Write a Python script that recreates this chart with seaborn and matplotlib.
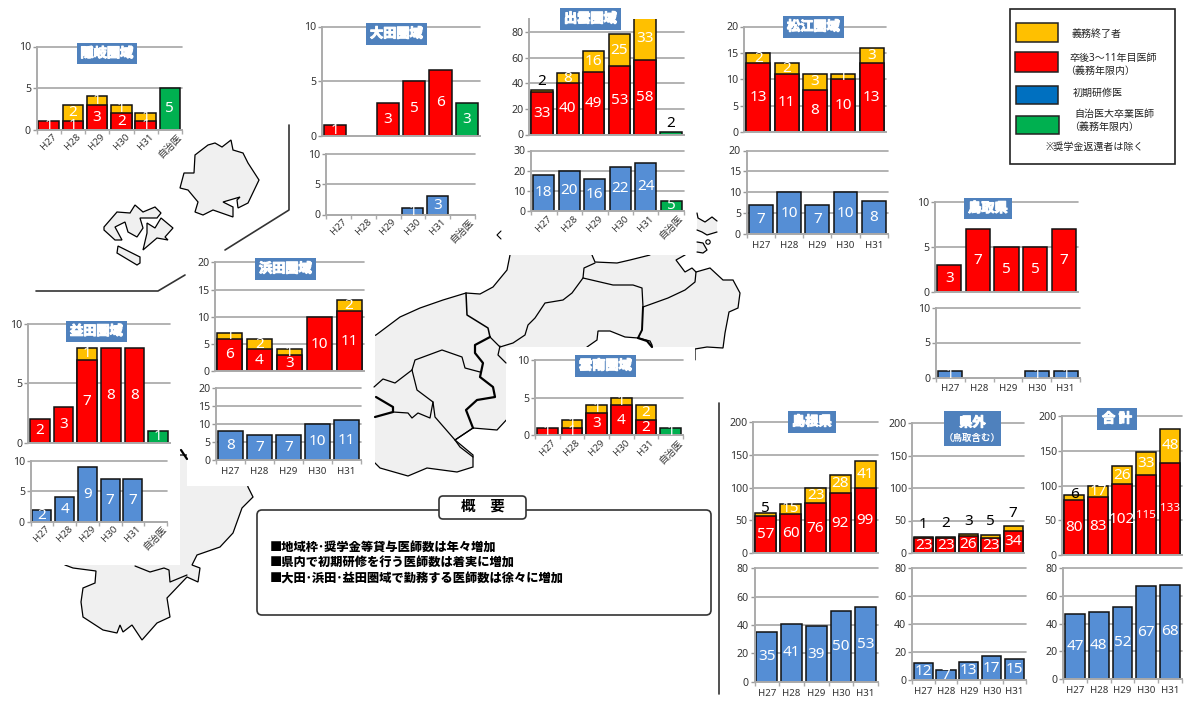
import numpy as np
import matplotlib
matplotlib.use('Agg')
import matplotlib.pyplot as plt
import matplotlib.patheffects as pe
from matplotlib.patches import Polygon, Rectangle, FancyBboxPatch, Circle
import seaborn as sns

sns.set_theme(style='white')
plt.rcParams['font.family'] = ['Noto Sans', 'Noto Sans CJK JP', 'DejaVu Sans']

W, H = 1184, 702
YEL, RED, BLU, GRN = '#FFC000', '#FF0000', '#558ED5', '#00B050'
TITLE_BG = '#4F81BD'

years = ['H27', 'H28', 'H29', 'H30', 'H31']
years_j = years + ['自治医']

# values
oki_red = [1, 1, 3, 2, 1, 0]
oki_yel = [0, 2, 1, 1, 1, 0]
oki_grn = [0, 0, 0, 0, 0, 5]

ohda_red = [1, 0, 3, 5, 6, 0]
ohda_grn = [0, 0, 0, 0, 0, 3]
ohda_blu = [0, 0, 0, 1, 3, 0]

izumo_red = [33, 40, 49, 53, 58, 0]
izumo_yel = [2, 8, 16, 25, 33, 0]
izumo_grn = [0, 0, 0, 0, 0, 2]
izumo_blu = [18, 20, 16, 22, 24, 0]
izumo_grn2 = [0, 0, 0, 0, 0, 5]

matsue_red = [13, 11, 8, 10, 13]
matsue_yel = [2, 2, 3, 1, 3]
matsue_blu = [7, 10, 7, 10, 8]

tottori_red = [3, 7, 5, 5, 7]
tottori_blu = [1, 0, 0, 1, 1]

hamada_red = [6, 4, 3, 10, 11]
hamada_yel = [1, 2, 1, 0, 2]
hamada_blu = [8, 7, 7, 10, 11]

masuda_red = [2, 3, 7, 8, 8, 0]
masuda_yel = [0, 0, 1, 0, 0, 0]
masuda_grn = [0, 0, 0, 0, 0, 1]
masuda_blu = [2, 4, 9, 7, 7, 0]

unnan_red = [1, 1, 3, 4, 2, 0]
unnan_yel = [0, 1, 1, 1, 2, 0]
unnan_grn = [0, 0, 0, 0, 0, 1]

shimane_red = [57, 60, 76, 92, 99]
shimane_yel = [5, 15, 23, 28, 41]
shimane_blu = [35, 41, 39, 50, 53]

kengai_red = [23, 23, 26, 23, 34]
kengai_yel = [1, 2, 3, 5, 7]
kengai_blu = [12, 7, 13, 17, 15]

total_red = [80, 83, 102, 115, 133]
total_yel = [6, 17, 26, 33, 48]
total_blu = [47, 48, 52, 67, 68]

# map outlines (background decoration, in pixels)
dogo = [(195, 155), (208, 145), (215, 143), (222, 147), (231, 140), (233, 150), (243, 153), (248, 163),
        (259, 180), (248, 203), (238, 208), (237, 200), (240, 197), (223, 202), (233, 207), (233, 217),
        (213, 210), (203, 215), (195, 212), (198, 202), (188, 190), (180, 188), (184, 173), (194, 173)]
dozen1 = [(104, 227), (117, 212), (130, 213), (135, 205), (143, 212), (155, 207), (161, 213), (157, 218),
          (140, 218), (143, 228), (137, 237), (128, 232), (125, 222), (115, 227), (122, 240), (115, 240),
          (104, 230)]
dozen2 = [(147, 223), (155, 228), (161, 218), (173, 228), (165, 237), (168, 240), (157, 238), (143, 250),
          (147, 233)]
dozen3 = [(118, 246), (140, 257), (140, 263), (137, 265), (117, 253)]
mainland = [(350, 345), (376, 335), (400, 317), (420, 308), (443, 300), (466, 293), (480, 294), (493, 287),
            (507, 270), (511, 250), (592, 250), (592, 255), (595, 262), (617, 263), (630, 260), (650, 255),
            (650, 250), (685, 250), (685, 255), (676, 260), (685, 272), (692, 268), (696, 272), (710, 268),
            (723, 280), (733, 280), (740, 293), (738, 308), (729, 312), (725, 333), (723, 348), (707, 347),
            (695, 349), (695, 360), (652, 360), (652, 345), (650, 341), (638, 338), (625, 337), (610, 331),
            (598, 331), (597, 340), (587, 347), (587, 360), (510, 360), (510, 416), (497, 430), (473, 428),
            (455, 440), (473, 455), (473, 467), (457, 472), (427, 468), (408, 476), (380, 468), (374, 462),
            (350, 450)]
west = [(60, 455), (65, 565), (73, 568), (96, 571), (95, 583), (83, 588), (81, 602), (83, 617), (103, 630),
        (117, 633), (120, 625), (123, 632), (132, 625), (142, 640), (157, 623), (170, 617), (167, 598),
        (187, 577), (198, 582), (200, 568), (192, 565), (197, 555), (220, 547), (233, 533), (242, 508),
        (253, 497), (248, 487), (240, 455)]
shore_a = [(697, 213), (698, 218), (705, 222), (712, 217), (717, 221), (717, 232), (707, 235), (702, 232), (697, 230)]
shore_b = [(697, 242), (703, 243), (707, 250), (703, 253), (697, 252)]
borders = [
    ([(466, 293), (467, 315), (488, 328), (490, 337)], 1.1),
    ([(583, 278), (572, 293), (563, 300), (545, 303), (535, 318), (528, 325), (525, 335), (513, 343), (500, 347),
      (490, 337)], 0.9),
    ([(595, 263), (584, 268), (583, 278), (613, 285), (633, 285), (642, 288), (643, 307)], 0.9),
    ([(643, 307), (642, 330), (638, 338)], 1.4),
    ([(638, 338), (647, 341), (652, 347)], 1.6),
    ([(643, 307), (668, 298), (685, 290), (695, 282), (696, 272)], 0.9),
    ([(490, 337), (475, 345), (475, 353), (483, 363), (480, 377), (493, 387), (495, 397), (477, 400),
      (466, 410), (473, 428)], 1.6),
    ([(500, 346), (498, 355), (506, 363)], 0.9),
    ([(376, 397), (393, 407), (393, 412), (375, 417)], 1.6),
    ([(412, 370), (415, 360), (442, 350), (462, 357), (465, 368), (480, 372)], 0.9),
    ([(412, 370), (417, 390), (433, 402), (435, 417), (455, 440), (473, 428)], 0.9),
    ([(374, 387), (383, 379), (395, 383), (412, 370)], 0.9),
    ([(393, 412), (408, 413), (412, 418), (418, 413), (430, 418), (433, 402)], 0.9),
    ([(455, 440), (460, 447), (473, 457)], 0.9),
    ([(135, 566), (150, 572), (164, 568), (169, 570), (170, 582), (187, 575)], 0.9),
    ([(181, 450), (187, 459)], 1.6),
]
white_boxes = [(187, 245, 188, 241), (0, 320, 180, 245), (506, 347, 189, 123), (330, 205, 365, 50)]
callouts = [[(289, 125), (289, 210), (225, 250)], [(185, 275), (158, 291), (36, 291)], [(718.5, 403), (718.5, 694)]]

fig = plt.figure(figsize=(W / 100, H / 100), dpi=100, facecolor='white')

bg = fig.add_axes([0, 0, 1, 1], zorder=0)
bg.set_xlim(0, W)
bg.set_ylim(H, 0)
bg.axis('off')
for shape in [dogo, dozen1, dozen2, dozen3, mainland, west]:
    bg.add_patch(Polygon(shape, closed=True, fc='#F0F0F0', ec='black', lw=0.9))
for shape in [shore_a, shore_b]:
    bg.add_patch(Polygon(shape, closed=True, fc='#F0F0F0', ec='none'))
    bg.plot(*zip(*shape[:5]), color='black', lw=0.9)
bg.plot(*zip(*shore_a[5:]), color='black', lw=0.9)
bg.add_patch(Circle((708, 242), 2.2, fc='white', ec='black', lw=0.8))
bg.plot([501, 497, 501], [231, 235, 239], color='black', lw=0.8)
for pts, lw in borders:
    bg.plot(*zip(*pts), color='black', lw=lw, solid_capstyle='round')
for x, y, w, h in white_boxes:
    bg.add_patch(Rectangle((x, y), w, h, fc='white', ec='none'))
for pts in callouts:
    bg.plot(*zip(*pts), color='#333333', lw=1.2)

top = fig.add_axes([0, 0, 1, 1], zorder=5)
top.set_xlim(0, W)
top.set_ylim(H, 0)
top.axis('off')


def draw_bars(ax, cats, values, color):
    vals = [np.nan if v is None else v for v in values]
    sns.barplot(x=cats, y=vals, order=cats, color=color, saturation=1, width=0.84, errorbar=None,
                edgecolor='#111111', linewidth=1.1, ax=ax)


def panel(left, right, y_top, y_zero, ymax, ticks, cats, segments, show_x=True, dy=8):
    ax = fig.add_axes([left / W, 1 - y_zero / H, (right - left) / W, (y_zero - y_top) / H], zorder=2)
    ax.patch.set_alpha(0)
    n = len(cats)
    stack = np.zeros(n)
    tops = []
    for values, color in segments:
        stack = stack + np.array(values)
        tops.append(stack.copy())
    # stacked look: draw the tallest first, the lower parts over it
    for i in reversed(range(len(segments))):
        values, color = segments[i]
        draw_bars(ax, cats, [tops[i][k] if values[k] > 0 else None for k in range(n)], color)
    for i, (values, color) in enumerate(segments):
        for k, v in enumerate(values):
            if v == 0:
                continue
            size = 8.4 if v >= 110 else 11
            if v / ymax <= 0.035:
                ax.annotate(str(v), (k, tops[i][k]), xytext=(0, dy * 0.72), textcoords='offset points',
                            ha='center', va='center', color='black', fontsize=11)
            else:
                ax.text(k, tops[i][k] - v / 2, str(v), ha='center', va='center', color='white', fontsize=size)
    ax.set_xlim(-0.5, n - 0.5)
    ax.set_ylim(0, ymax)
    ax.set_yticks(ticks)
    ax.set_xticks(range(n))
    ax.set_xticks(np.arange(n + 1) - 0.5, minor=True)
    ax.grid(False)
    ax.yaxis.grid(True, color='#A6A6A6', lw=1.2)
    ax.set_axisbelow(True)
    for line in ax.get_ygridlines():
        line.set_clip_on(False)
    sns.despine(ax=ax)
    for side in ['left', 'bottom']:
        ax.spines[side].set_color('#ABABAB')
        ax.spines[side].set_linewidth(1.4)
    ax.tick_params(axis='y', left=True, length=3, width=1, color='#999999', pad=1, labelsize=7.6,
                   labelcolor='#333333')
    ax.tick_params(axis='x', which='major', length=0, pad=5, labelsize=7, labelcolor='#333333')
    ax.tick_params(axis='x', which='minor', bottom=True, length=3, width=1, color='#ABABAB')
    if not show_x:
        ax.tick_params(axis='x', which='both', labelbottom=False, bottom=False)
    elif n == 6:
        ax.set_xticklabels(cats, rotation=45, ha='center')
        ax.tick_params(axis='x', which='major', pad=2)
    else:
        ax.set_xticklabels(cats)
    ax.set_xlabel('')
    ax.set_ylabel('')
    return ax


t5, t10 = [0, 5, 10], [0, 5, 10, 15, 20]
panel(36.5, 182, 46.5, 129.5, 10, t5, years_j, [(oki_red, RED), (oki_yel, YEL), (oki_grn, GRN)])

panel(322, 480, 26.5, 135.5, 10, t5, years_j, [(ohda_red, RED), (ohda_grn, GRN)], show_x=False)
panel(326, 475, 153.5, 214.5, 10, t5, years_j, [(ohda_blu, BLU)])

panel(529, 684, 19, 134.5, 90, [0, 20, 40, 60, 80], years_j,
      [(izumo_red, RED), (izumo_yel, YEL), (izumo_grn, GRN)], show_x=False)
panel(531, 684, 150.5, 211, 30, [0, 10, 20, 30], years_j, [(izumo_blu, BLU), (izumo_grn2, GRN)])

panel(744, 886, 26.5, 132, 20, t10, years, [(matsue_red, RED), (matsue_yel, YEL)], show_x=False)
panel(746.5, 888, 150.5, 234, 20, t10, years, [(matsue_blu, BLU)])

panel(935, 1078, 202, 292, 10, t5, years, [(tottori_red, RED)], show_x=False)
panel(936, 1080, 307.5, 377.5, 10, t5, years, [(tottori_blu, BLU)])

panel(214.7, 364, 262.3, 371.3, 20, t10, years, [(hamada_red, RED), (hamada_yel, YEL)], show_x=False)
panel(216, 361, 387.7, 460, 20, t10, years, [(hamada_blu, BLU)])

panel(28, 170, 324, 442.7, 10, t5, years_j, [(masuda_red, RED), (masuda_yel, YEL), (masuda_grn, GRN)], show_x=False)
panel(30.5, 167, 460.7, 521.7, 10, t5, years_j, [(masuda_blu, BLU)])

panel(535, 683, 359.7, 435.3, 10, t5, years_j, [(unnan_red, RED), (unnan_yel, YEL), (unnan_grn, GRN)])

big = [0, 50, 100, 150, 200]
low = [0, 20, 40, 60, 80]
panel(753.3, 877.7, 422, 553.3, 200, big, years, [(shimane_red, RED), (shimane_yel, YEL)], show_x=False, dy=4)
panel(754.5, 878, 568.3, 681.7, 80, low, years, [(shimane_blu, BLU)])
panel(912.3, 1024.3, 423, 553, 200, big, years, [(kengai_red, RED), (kengai_yel, YEL)], show_x=False, dy=13)
panel(911.7, 1026, 568.3, 680, 80, low, years, [(kengai_blu, BLU)])
panel(1062.3, 1182, 416, 555.3, 200, big, years, [(total_red, RED), (total_yel, YEL)], show_x=False, dy=1)
panel(1063, 1182, 568.3, 678.7, 80, low, years, [(total_blu, BLU)])

# region titles
halo = [pe.withStroke(linewidth=0.8, foreground='white')]
titles = [('隠岐圏域', 77, 43, 60, 21), ('大田圏域', 366, 23, 61, 22), ('出雲圏域', 560, 8, 61, 22),
          ('松江圏域', 783, 16, 61, 22), ('鳥取県', 964, 198, 48, 21), ('浜田圏域', 255, 258, 61, 22),
          ('益田圏域', 66, 321, 61, 21), ('雲南圏域', 575, 355, 61, 22), ('島根県', 788, 411, 48, 22),
          ('合 計', 1097, 408, 40, 22)]
for name, x, y, w, h in titles:
    top.add_patch(Rectangle((x, y), w, h, fc=TITLE_BG, ec='none'))
    top.text(x + w / 2, y + h / 2, name, color='white', fontsize=9.5, fontweight='bold', ha='center', va='center',
             path_effects=halo)
top.add_patch(Rectangle((944, 411), 57, 35, fc=TITLE_BG, ec='none'))
top.text(972.5, 423, '県外', color='white', fontsize=9.5, fontweight='bold', ha='center', va='center', path_effects=halo)
top.text(972.5, 438, '（鳥取含む）', color='white', fontsize=6.8, fontweight='bold', ha='center', va='center')

# key
top.add_patch(Rectangle((1010, 9), 165, 155, fc='white', ec='#222222', lw=1.2))
swatches = [(1015.5, 23, 42, 19, YEL), (1015, 52, 43, 20, RED), (1016, 86, 42, 18, '#0070C0'), (1016, 116, 43, 18, GRN)]
for x, y, w, h, c in swatches:
    top.add_patch(Rectangle((x, y), w, h, fc=c, ec='#222222', lw=1.1))
key_text = [('義務終了者', 1072, 34), ('卒後3～11年目医師', 1070, 58), ('（義務年限内）', 1065, 71),
            ('初期研修医', 1073, 93), ('自治医大卒業医師', 1074, 114), ('（義務年限内）', 1069, 127)]
for s, x, y in key_text:
    top.text(x, y, s, fontsize=7.2, color='#222222', ha='left', va='center')
top.text(1094.5, 147.5, '※奨学金返還者は除く', fontsize=7.2, color='#222222', ha='center', va='center')

# summary box
top.add_patch(FancyBboxPatch((257, 510), 454, 105, boxstyle='round,pad=0,rounding_size=5', fc='white',
                             ec='#333333', lw=1.2))
top.add_patch(FancyBboxPatch((439, 496), 87, 23, boxstyle='round,pad=0,rounding_size=4', fc='white',
                             ec='#333333', lw=1.2))
top.text(482.5, 507, '概\u3000要', fontsize=10.5, fontweight='bold', ha='center', va='center', color='black')
summary = ['■地域枠･奨学金等貸与医師数は年々増加', '■県内で初期研修を行う医師数は着実に増加', '■大田･浜田･益田圏域で勤務する医師数は徐々に増加']
for s, y in zip(summary, [547, 562, 578]):
    top.text(270, y, s, fontsize=8.8, fontweight='black', ha='left', va='center', color='black')

fig.savefig('out.png', dpi=100)
